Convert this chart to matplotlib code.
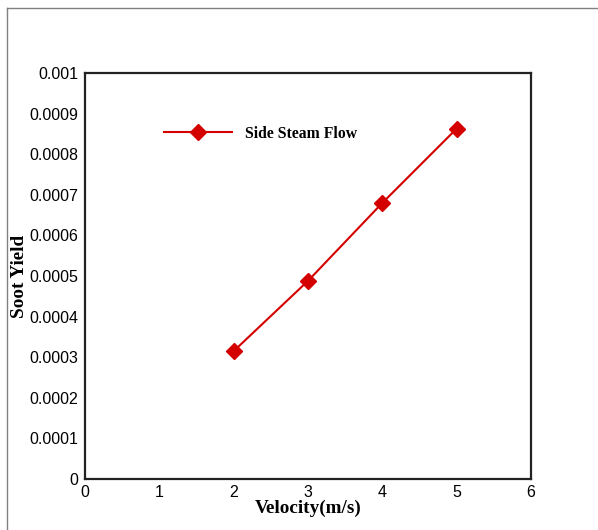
import numpy as np
import matplotlib
matplotlib.use('Agg')
import matplotlib.pyplot as plt
from matplotlib.lines import Line2D

# valeurs
vitesse = [2, 3, 4, 5]
rendementSuie = [0.000315, 0.000488, 0.000680, 0.000863]
nomSerie = 'Side Steam Flow'
ticksX = [0, 1, 2, 3, 4, 5, 6]
ticksY = [0, 0.0001, 0.0002, 0.0003, 0.0004, 0.0005, 0.0006, 0.0007, 0.0008, 0.0009, 0.001]
labelsY = ['0', '0.0001', '0.0002', '0.0003', '0.0004', '0.0005', '0.0006', '0.0007', '0.0008', '0.0009', '0.001']

rouge = '#d40000'

fig = plt.figure(figsize=(5.98, 5.30), dpi=100)
ax = fig.add_axes([85 / 598, 1 - 479 / 530, (531 - 85) / 598, (479 - 73) / 530])

ligne, = ax.plot(vitesse, rendementSuie, color=rouge, lw=1.5, marker='D', markersize=8.5,
                 markerfacecolor=rouge, markeredgecolor=rouge)

ax.set_xlim(0, 6)
ax.set_ylim(0, 0.001)
ax.set_xticks(ticksX)
ax.set_yticks(ticksY)
ax.set_yticklabels(labelsY)
ax.tick_params(axis='y', length=0, labelsize=11.5, pad=5)
ax.tick_params(axis='x', length=0, labelsize=11.5, pad=4)
for lab in ax.get_xticklabels() + ax.get_yticklabels():
    lab.set_fontfamily('Liberation Sans')
for sp in ax.spines.values():
    sp.set_linewidth(1.6)
    sp.set_color('#222222')

ax.set_xlabel('Velocity(m/s)', fontfamily='Liberation Serif', fontweight='bold', fontsize=13.8)
ax.set_ylabel('Soot Yield', fontfamily='Liberation Serif', fontweight='bold', fontsize=13.8)
ax.xaxis.set_label_coords(0.5, -(508 - 479) / 406, transform=ax.transAxes)
ax.xaxis.label.set_va('center')
ax.yaxis.set_label_coords(-(85 - 20) / 446, 0.5, transform=ax.transAxes)
ax.yaxis.label.set_va('center')

leg = ax.legend([ligne], [nomSerie], loc='upper left', bbox_to_anchor=(0.146, 0.905), frameon=False,
                handlelength=4.3, handletextpad=0.85,
                prop={'family': 'Liberation Serif', 'weight': 'bold', 'size': 11.3})

# cadre gris de la page
fig.add_artist(Line2D([7 / 598, 1], [1 - 8 / 530, 1 - 8 / 530], color='#808080', lw=1))
fig.add_artist(Line2D([7 / 598, 7 / 598], [0, 1 - 8 / 530], color='#808080', lw=1))

fig.savefig('out.png', dpi=100)
